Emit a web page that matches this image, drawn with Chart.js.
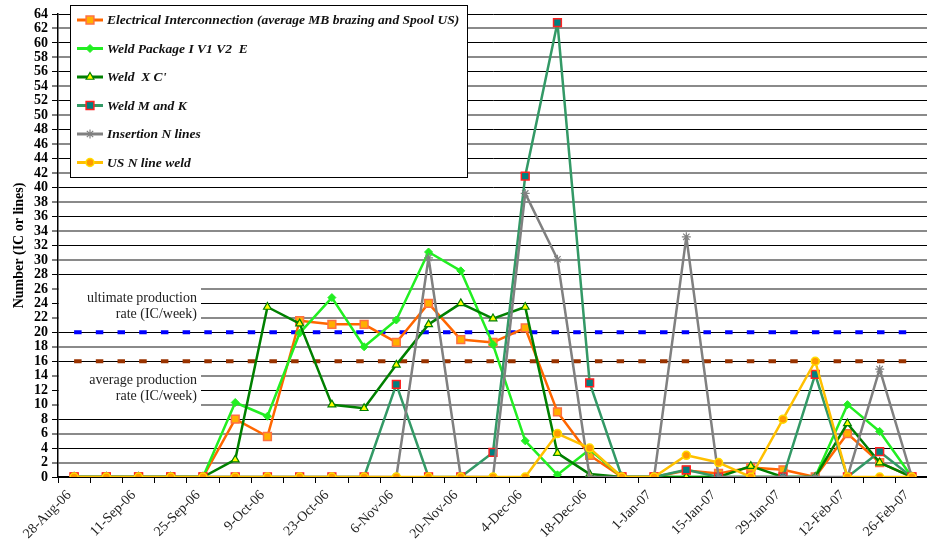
<!DOCTYPE html>
<html>
<head>
<meta charset="utf-8">
<title>IC production rate</title>
<script src="https://cdn.jsdelivr.net/npm/chart.js@4/dist/chart.umd.min.js"></script>
<style>
  html, body { margin: 0; padding: 0; background: #fff; }
  /* plot area runs a bit past the right edge, as in the original */
  #wrap { width: 927px; height: 551px; overflow: hidden; }
</style>
</head>
<body>
<div id="wrap"><canvas id="chart" width="935" height="551"></canvas></div>
<script>
const weekLabels = ['28-Aug-06', '4-Sep-06', '11-Sep-06', '18-Sep-06', '25-Sep-06', '2-Oct-06', '9-Oct-06',
    '16-Oct-06', '23-Oct-06', '30-Oct-06', '6-Nov-06', '13-Nov-06', '20-Nov-06', '27-Nov-06', '4-Dec-06',
    '11-Dec-06', '18-Dec-06', '25-Dec-06', '1-Jan-07', '8-Jan-07', '15-Jan-07', '22-Jan-07', '29-Jan-07',
    '5-Feb-07', '12-Feb-07', '19-Feb-07', '26-Feb-07'];

const electrical = [0, 0, 0, 0, 0, 8.0, 5.6, 21.6, 21.1, 21.1, 18.6, 24.0, 19.0, 18.6, 20.6, 9.0, 3.0, 0, 0, 0.9, 0.5, 1.3, 1.0, 0, 6.0, 2.0, 0];
const weldPackage = [0, 0, 0, 0, 0, 10.3, 8.4, 19.9, 24.8, 18.0, 21.7, 31.1, 28.5, 18.3, 5.0, 0.3, 3.8, 0, 0, 0, 0, 0, 0, 0, 10.0, 6.3, 0];
const weldXC = [0, 0, 0, 0, 0, 2.4, 23.5, 21.2, 10.0, 9.5, 15.5, 21.1, 24.0, 21.9, 23.5, 3.3, 0.4, 0, 0, 0, 0, 1.5, 0, 0, 7.4, 2.0, 0];
const weldMK = [0, 0, 0, 0, 0, 0, 0, 0, 0, 0, 12.8, 0, 0, 3.4, 41.6, 62.8, 13.0, 0, 0, 1.0, 0, 0, 0, 14.2, 0, 3.5, 0];
const insertionN = [0, 0, 0, 0, 0, 0, 0, 0, 0, 0, 0, 30.3, 0, 0, 39.2, 30.1, 0, 0, 0, 33.2, 0, 0, 0, 0, 0, 14.9, 0];
const usNWeld = [0, 0, 0, 0, 0, 0, 0, 0, 0, 0, 0, 0, 0, 0, 0, 6.0, 4.0, 0, 0, 3.0, 2.0, 0, 8.0, 16.0, 0, 0, 0];
const ultimateRate = weekLabels.map(() => 20);
const averageRate = weekLabels.map(() => 16);

const seriesNames = ['Electrical Interconnection (average MB brazing and Spool US)', 'Weld Package I V1 V2  E',
    "Weld  X C'", 'Weld M and K', 'Insertion N lines', 'US N line weld'];

const SERIF = '"Liberation Serif", "DejaVu Serif", serif';

// excel style: later series sit on top, so lower order draws last
const line = (label, data, color, order, point) => ({
    label,
    data,
    order,
    borderColor: color,
    borderWidth: 2.5,
    borderJoinStyle: 'round',
    tension: 0,
    pointRadius: point.radius,
    pointStyle: point.style,
    pointBackgroundColor: point.fill,
    pointBorderColor: point.border,
    pointBorderWidth: point.borderWidth
});

const datasets = [
    line(seriesNames[0], electrical, '#ff6600', 6, { style: 'rect', radius: 5.5, fill: '#ffb000', border: '#ff7040', borderWidth: 1.5 }),
    line(seriesNames[1], weldPackage, '#22ee22', 5, { style: 'rectRot', radius: 4, fill: '#22ee22', border: '#22ee22', borderWidth: 1 }),
    line(seriesNames[2], weldXC, '#008000', 4, { style: 'triangle', radius: 4.5, fill: '#ffff00', border: '#008000', borderWidth: 1.2 }),
    line(seriesNames[3], weldMK, '#339966', 3, { style: 'rect', radius: 5.5, fill: '#008080', border: '#ff2020', borderWidth: 1.5 }),
    line(seriesNames[4], insertionN, '#808080', 2, { style: 'star', radius: 4.5, fill: '#808080', border: '#808080', borderWidth: 1.2 }),
    line(seriesNames[5], usNWeld, '#ffc000', 1, { style: 'circle', radius: 4, fill: '#ff9900', border: '#ffdd00', borderWidth: 1.5 }),
    { label: 'ultimate', data: ultimateRate, order: 8, borderColor: '#0000ff', borderWidth: 4, borderDash: [7.5, 14.2], pointRadius: 0 },
    { label: 'average', data: averageRate, order: 9, borderColor: '#993300', borderWidth: 4, borderDash: [7.5, 14.2], pointRadius: 0 }
];

// white text boxes next to the two dashed rate lines
const rateNotes = {
    id: 'rateNotes',
    beforeDatasetsDraw(chart) {
        const ctx = chart.ctx;
        ctx.save();
        ctx.fillStyle = '#fff';
        ctx.fillRect(59, 282, 142, 42);
        ctx.fillRect(59, 366, 142, 45);
        ctx.fillStyle = '#222';
        ctx.font = '14px ' + SERIF;
        ctx.textAlign = 'right';
        ctx.textBaseline = 'middle';
        ctx.fillText('ultimate production', 197, 298);
        ctx.fillText('rate (IC/week)', 197, 314);
        ctx.fillText('average production', 197, 380);
        ctx.fillText('rate (IC/week)', 197, 396);
        ctx.restore();
    }
};

// boxed legend drawn over the top-left of the plot
const legendBox = {
    id: 'legendBox',
    afterDraw(chart) {
        const ctx = chart.ctx;
        ctx.save();
        ctx.fillStyle = '#fff';
        ctx.fillRect(70, 5, 397, 172);
        ctx.strokeStyle = '#000';
        ctx.lineWidth = 1;
        ctx.strokeRect(70.5, 5.5, 397, 172);
        ctx.font = 'italic bold 13.5px ' + SERIF;
        ctx.textBaseline = 'middle';

        chart.data.datasets.forEach((ds) => {
            const row = seriesNames.indexOf(ds.label);
            if (row < 0) return;
            const y = 20 + row * 28.5;

            ctx.strokeStyle = ds.borderColor;
            ctx.lineWidth = 3;
            ctx.beginPath();
            ctx.moveTo(77, y);
            ctx.lineTo(103, y);
            ctx.stroke();

            ctx.fillStyle = ds.pointBackgroundColor;
            ctx.strokeStyle = ds.pointBorderColor;
            ctx.lineWidth = ds.pointBorderWidth;
            Chart.helpers.drawPoint(ctx, { pointStyle: ds.pointStyle, radius: ds.pointRadius, rotation: 0, borderWidth: ds.pointBorderWidth }, 90, y);

            ctx.fillStyle = '#111';
            ctx.fillText(ds.label, 107, y + 1);
        });
        ctx.restore();
    }
};

new Chart(document.getElementById('chart'), {
    type: 'line',
    data: { labels: weekLabels, datasets },
    plugins: [rateNotes, legendBox],
    options: {
        responsive: false,
        animation: false,
        layout: { padding: { top: 14, right: 0, bottom: 0, left: 0 } },
        plugins: { legend: { display: false }, tooltip: { enabled: false } },
        scales: {
            x: {
                offset: true,
                grid: { offset: true, drawOnChartArea: false, drawTicks: true, tickLength: 6, tickColor: '#000' },
                border: { color: '#000', width: 1.5 },
                ticks: {
                    autoSkip: false,
                    minRotation: 45,
                    maxRotation: 45,
                    padding: 4,
                    labelOffset: -5,
                    color: '#222',
                    font: { family: SERIF, size: 14 },
                    callback: (v, i) => i % 2 === 0 ? weekLabels[i] : ''
                },
                afterFit: (s) => { s.height = 74; }
            },
            y: {
                min: 0,
                max: 64,
                ticks: { stepSize: 2, autoSkip: false, padding: 4, color: '#000', font: { family: SERIF, size: 14, weight: 'bold' } },
                grid: {
                    color: (c) => c.tick.value % 4 === 0 ? '#000' : '#8a8a8a',
                    lineWidth: (c) => c.tick.value % 4 === 0 ? 1 : 2,
                    tickColor: '#000',
                    tickLength: 6,
                    tickWidth: 1
                },
                border: { color: '#000', width: 1.5 },
                title: {
                    display: true,
                    text: 'Number (IC or lines)',
                    color: '#000',
                    font: { family: SERIF, size: 14, weight: 'bold' },
                    padding: { top: 11, bottom: 0 }
                },
                afterFit: (s) => { s.width = 58; }
            }
        }
    }
});
</script>
</body>
</html>
